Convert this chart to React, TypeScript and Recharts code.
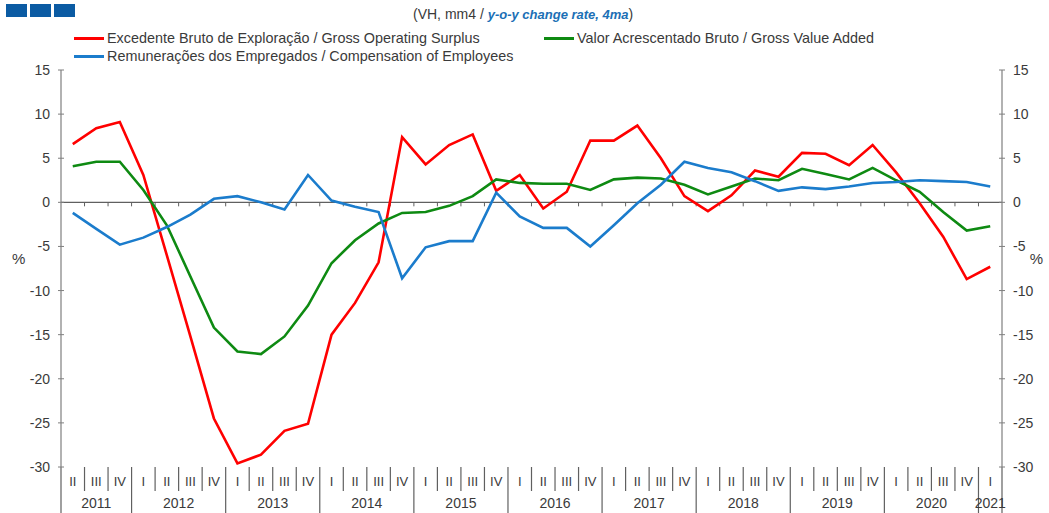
import React from "react";
import { LineChart, Line, XAxis, YAxis, ReferenceLine } from "recharts";

const W = 1049;
const H = 513;
const LEFT_W = 61;
const RIGHT_W = 47;
const TOP = 70;
const BOTTOM_H = 46;

const quarters = [
  "II", "III", "IV",
  "I", "II", "III", "IV",
  "I", "II", "III", "IV",
  "I", "II", "III", "IV",
  "I", "II", "III", "IV",
  "I", "II", "III", "IV",
  "I", "II", "III", "IV",
  "I", "II", "III", "IV",
  "I", "II", "III", "IV",
  "I", "II", "III", "IV",
  "I",
];
const years = [
  2011, 2011, 2011,
  2012, 2012, 2012, 2012,
  2013, 2013, 2013, 2013,
  2014, 2014, 2014, 2014,
  2015, 2015, 2015, 2015,
  2016, 2016, 2016, 2016,
  2017, 2017, 2017, 2017,
  2018, 2018, 2018, 2018,
  2019, 2019, 2019, 2019,
  2020, 2020, 2020, 2020,
  2021,
];

// Excedente Bruto de Exploração / Gross Operating Surplus
const gos = [
  6.6, 8.4, 9.1, 3.1, -6.0, -15.2, -24.5, -29.6, -28.6, -25.9,
  -25.1, -15.0, -11.4, -6.8, 7.4, 4.3, 6.5, 7.7, 1.3, 3.1,
  -0.7, 1.2, 7.0, 7.0, 8.7, 5.0, 0.7, -1.0, 0.8, 3.6,
  2.9, 5.6, 5.5, 4.2, 6.5, 3.4, -0.1, -3.9, -8.7, -7.3,
];
// Valor Acrescentado Bruto / Gross Value Added
const gva = [
  4.1, 4.6, 4.6, 1.4, -2.6, -8.4, -14.2, -16.9, -17.2, -15.2,
  -11.7, -6.9, -4.3, -2.4, -1.2, -1.1, -0.4, 0.7, 2.6, 2.2,
  2.1, 2.1, 1.4, 2.6, 2.8, 2.7, 2.0, 0.9, 1.8, 2.7,
  2.5, 3.8, 3.2, 2.6, 3.9, 2.5, 1.2, -1.1, -3.2, -2.7,
];
// Remunerações dos Empregados / Compensation of Employees
const coe = [
  -1.2, -3.0, -4.8, -4.0, -2.8, -1.4, 0.4, 0.7, 0.0, -0.8,
  3.1, 0.2, -0.5, -1.1, -8.6, -5.1, -4.4, -4.4, 1.1, -1.6,
  -2.9, -2.9, -5.0, -2.6, -0.1, 2.0, 4.6, 3.9, 3.4, 2.4,
  1.3, 1.7, 1.5, 1.8, 2.2, 2.3, 2.5, 2.4, 2.3, 1.8,
];

const yTicks = [-30, -25, -20, -15, -10, -5, 0, 5, 10, 15];

const series = [
  { key: "gos", name: "Excedente Bruto de Exploração / Gross Operating Surplus", color: "#ff0000", axis: "left" },
  { key: "gva", name: "Valor Acrescentado Bruto / Gross Value Added", color: "#0e8a12", axis: "left" },
  { key: "coe", name: "Remunerações dos Empregados / Compensation of Employees", color: "#1b7ccc", axis: "right" },
];

const data = quarters.map((q, i) => ({
  q,
  year: years[i],
  gos: gos[i],
  gva: gva[i],
  coe: coe[i],
}));

const N = data.length;
const PLOT_W = W - LEFT_W - RIGHT_W;
const STEP = PLOT_W / N;

const FONT = "'Liberation Sans', Arial, sans-serif";
const TXT = "#3a3a3a";
const AXIS = "#7f7f7f";
const SEP = "#606060";

function LeftTick(props: any) {
  const { x, y, payload } = props;
  const ax = x + 11;
  return (
    <g>
      <line x1={ax - 3} x2={ax + 3} y1={y} y2={y} stroke={AXIS} />
      <text x={x} y={y} dy={5} textAnchor="end" fontSize={14} fill={TXT} fontFamily={FONT}>
        {payload.value}
      </text>
    </g>
  );
}

function RightTick(props: any) {
  const { x, y, payload } = props;
  const ax = x - 11;
  return (
    <g>
      <line x1={ax - 3} x2={ax + 3} y1={y} y2={y} stroke={AXIS} />
      <text x={x} y={y} dy={5} textAnchor="start" fontSize={14} fill={TXT} fontFamily={FONT}>
        {payload.value}
      </text>
    </g>
  );
}

function QuarterTick(props: any) {
  const { x, y, payload, index } = props;
  const i = typeof index === "number" ? index : payload.index;
  const yr = years[i];
  const start = i === 0 || years[i - 1] !== yr;
  const last = i === N - 1;
  // centre of the year group
  const first = years.indexOf(yr);
  const lastIdx = years.lastIndexOf(yr);
  const centre = (first + lastIdx) / 2;
  const showYear = i === Math.floor(centre);
  const yearX = x + (centre - i) * STEP;
  return (
    <g>
      <line x1={x - STEP / 2} x2={x - STEP / 2} y1={y} y2={start ? H : y + 24} stroke={SEP} strokeWidth={1.2} />
      {last && <line x1={x + STEP / 2} x2={x + STEP / 2} y1={y} y2={H} stroke={SEP} strokeWidth={1.2} />}
      <text x={x} y={y + 19} textAnchor="middle" fontSize={13} fill={TXT} fontFamily={FONT}>
        {payload.value}
      </text>
      {showYear && (
        <text x={yearX} y={y + 41} textAnchor="middle" fontSize={14} fill={TXT} fontFamily={FONT}>
          {yr}
        </text>
      )}
    </g>
  );
}

function ZeroLine(props: any) {
  const { x1, x2, y1 } = props;
  const marks = [];
  for (let k = 1; k < N; k++) {
    const xx = x1 + ((x2 - x1) * k) / N;
    marks.push(<line key={k} x1={xx} x2={xx} y1={y1} y2={y1 + 4} stroke={SEP} />);
  }
  return (
    <g>
      <line x1={x1} x2={x2} y1={y1} y2={y1} stroke={SEP} strokeWidth={1.2} />
      {marks}
    </g>
  );
}

function LegendItem({ color, name, left, top }: { color: string; name: string; left: number; top: number }) {
  return (
    <div style={{ position: "absolute", left, top, display: "flex", alignItems: "center", whiteSpace: "nowrap" }}>
      <span style={{ display: "inline-block", width: 30, height: 3, background: color, marginRight: 3 }} />
      <span style={{ fontSize: 14.4, color: TXT, fontFamily: FONT, lineHeight: "16px" }}>{name}</span>
    </div>
  );
}

export default function App() {
  return (
    <div style={{ position: "absolute", left: 0, top: 0, width: W, height: H, background: "#fff", overflow: "hidden" }}>
      <div style={{ position: "absolute", left: 6, top: 4, display: "flex", gap: 3 }}>
        {[0, 1, 2].map((b) => (
          <div key={b} style={{ width: 21, height: 13, background: "#0b5ba3" }} />
        ))}
      </div>
      <div
        style={{
          position: "absolute",
          left: 413,
          top: 6,
          fontFamily: FONT,
          fontSize: 14,
          color: TXT,
          whiteSpace: "nowrap",
          lineHeight: "16px",
        }}
      >
        (VH, mm4 /{" "}
        <span style={{ color: "#1b6fb5", fontWeight: "bold", fontStyle: "italic", fontSize: 13 }}>
          y-o-y change rate, 4ma
        </span>
        )
      </div>
      <LegendItem color={series[0].color} name={series[0].name} left={74} top={30} />
      <LegendItem color={series[1].color} name={series[1].name} left={544} top={30} />
      <LegendItem color={series[2].color} name={series[2].name} left={74} top={48} />

      <LineChart width={W} height={H} data={data} margin={{ top: TOP, right: 0, bottom: 0, left: 0 }}>
        <XAxis
          dataKey="q"
          height={BOTTOM_H}
          interval={0}
          axisLine={false}
          tickLine={false}
          tickSize={0}
          tickMargin={0}
          padding={{ left: STEP / 2, right: STEP / 2 }}
          tick={<QuarterTick />}
        />
        <YAxis
          yAxisId="left"
          orientation="left"
          width={LEFT_W}
          domain={[-30, 15]}
          ticks={yTicks}
          interval={0}
          allowDataOverflow
          axisLine={{ stroke: AXIS, strokeWidth: 1.2 }}
          tickLine={false}
          tickSize={0}
          tickMargin={11}
          tick={<LeftTick />}
          label={{ value: "%", position: "insideLeft", offset: 12, dy: -10, fontSize: 15, fill: TXT, fontFamily: FONT }}
        />
        <YAxis
          yAxisId="right"
          orientation="right"
          width={RIGHT_W}
          domain={[-30, 15]}
          ticks={yTicks}
          interval={0}
          allowDataOverflow
          axisLine={{ stroke: AXIS, strokeWidth: 1.2 }}
          tickLine={false}
          tickSize={0}
          tickMargin={11}
          tick={<RightTick />}
          label={{ value: "%", position: "insideRight", offset: 6, dy: -10, fontSize: 15, fill: TXT, fontFamily: FONT }}
        />
        <ReferenceLine yAxisId="left" y={0} shape={(p: any) => <ZeroLine {...p} />} />
        {series.map((s) => (
          <Line
            key={s.key}
            yAxisId={s.axis}
            type="linear"
            dataKey={s.key}
            name={s.name}
            stroke={s.color}
            strokeWidth={2.6}
            dot={false}
            activeDot={false}
            isAnimationActive={false}
          />
        ))}
      </LineChart>
    </div>
  );
}
